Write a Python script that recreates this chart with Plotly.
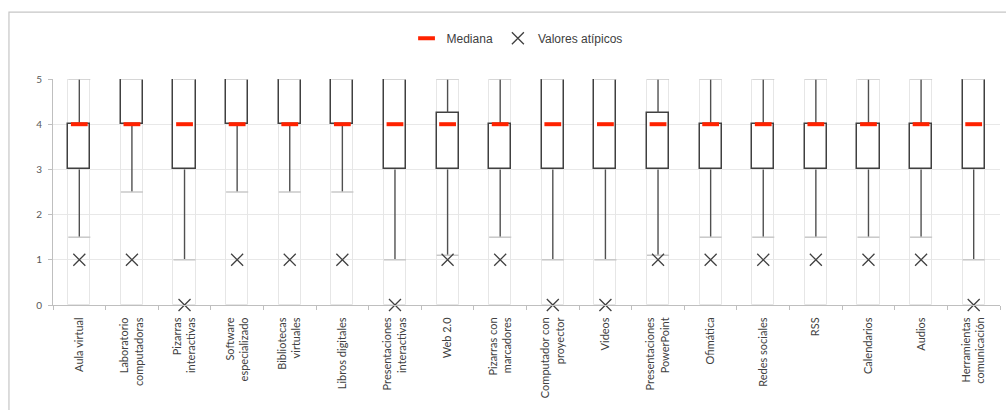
import plotly.graph_objects as go

categories = ["Aula virtual", "Laboratorio<br>computadoras", "Pizarras<br>interactivas",
              "Software<br>especializado", "Bibliotecas<br>virtuales", "Libros digitales",
              "Presentaciones<br>interactivas", "Web 2.0", "Pizarras con<br>marcadores",
              "Computador con<br>proyector", "Videos", "Presentaciones<br>PowerPoint",
              "Ofimática", "Redes sociales", "RSS", "Calendarios", "Audios",
              "Herramientas<br>comunicación"]
lower = [1.5, 2.5, 1, 2.5, 2.5, 2.5, 1, 1.1, 1.5, 1, 1, 1.1, 1.5, 1.5, 1.5, 1.5, 1.5, 1]
q1 = [3, 4, 3, 4, 4, 4, 3, 3, 3, 3, 3, 3, 3, 3, 3, 3, 3, 3]
median = [4] * 18
q3 = [4, 5, 5, 5, 5, 5, 5, 4.25, 4, 5, 5, 4.25, 4, 4, 4, 4, 4, 5]
upper = [5] * 18
outliers = [1, 1, 0, 1, 1, 1, 0, 1, 1, 0, 0, 1, 1, 1, 1, 1, 1, 0]

n = len(categories)
xs = list(range(n))
bw = 0.42
DARK = "#404040"

fig = go.Figure()

# faint full-height column outlines
fig.add_trace(go.Bar(x=xs, y=[5] * n, base=[0] * n, width=bw,
                     marker=dict(color="rgba(0,0,0,0)", line=dict(color="#e6e6e6", width=1)),
                     showlegend=False, hoverinfo="skip"))

# boxes
fig.add_trace(go.Bar(x=xs, y=[b - a for a, b in zip(q1, q3)], base=q1, width=bw,
                     marker=dict(color="white", line=dict(color=DARK, width=1.5)),
                     showlegend=False, hoverinfo="skip"))

# whiskers
wx, wy = [], []
for i in xs:
    wx += [i, i, None, i, i, None]
    wy += [lower[i], q1[i], None, q3[i], upper[i], None]
fig.add_trace(go.Scatter(x=wx, y=wy, mode="lines", line=dict(color="#505050", width=1.4),
                         showlegend=False, hoverinfo="skip"))

# caps
cx, cy = [], []
for i in xs:
    for v in (lower[i], upper[i]):
        cx += [i - bw / 2, i + bw / 2, None]
        cy += [v, v, None]
fig.add_trace(go.Scatter(x=cx, y=cy, mode="lines", line=dict(color="#c8c8c8", width=1.5),
                         showlegend=False, hoverinfo="skip"))

# medians
fig.add_trace(go.Scatter(x=xs, y=median, mode="markers", name="Mediana",
                         marker=dict(symbol="line-ew", size=12, color="#ff2200",
                                     line=dict(color="#ff2200", width=4)),
                         cliponaxis=False))

# outliers
fig.add_trace(go.Scatter(x=xs, y=outliers, mode="markers", name="Valores atípicos",
                         marker=dict(symbol="x-thin", size=12, color=DARK,
                                     line=dict(color=DARK, width=1.3)),
                         cliponaxis=False))

fig.add_shape(type="rect", xref="paper", yref="paper", x0=-0.0465, x1=1.2, y0=-1, y1=1.296,
              line=dict(color="#c6c6c6", width=1.2), layer="below")

fig.update_layout(
    width=1006, height=410,
    margin=dict(l=53, r=6, t=79, b=105, autoexpand=False),
    paper_bgcolor="white", plot_bgcolor="white",
    barmode="overlay", bargap=0,
    font=dict(family="Liberation Sans", color=DARK, size=12),
    legend=dict(orientation="h", x=0.49, xanchor="center", y=1.18, yanchor="middle",
                font=dict(family="Liberation Sans", size=12, color="#404040"),
                itemwidth=30, tracegroupgap=0),
    xaxis=dict(range=[-0.5, n - 0.5], tickmode="array", tickvals=xs, ticktext=categories,
               tickangle=-90, ticks="", showgrid=False, zeroline=False,
               showline=True, linecolor="#bfbfbf", linewidth=1, ticklabelstandoff=7,
               tickfont=dict(family="Lato", size=11, color="#404040"),
               minor=dict(tickmode="array", tickvals=[i - 0.5 for i in range(n + 1)],
                          ticks="outside", ticklen=4, tickcolor="#bfbfbf", showgrid=False)),
    yaxis=dict(range=[0, 5], tickvals=[0, 1, 2, 3, 4, 5], ticks="outside", ticklen=4,
               tickcolor="#bfbfbf", showline=True, linecolor="#bfbfbf", linewidth=1,
               gridcolor="#e8e8e8", zeroline=False, ticklabelstandoff=4,
               tickfont=dict(family="Lato", size=10, color="#595959")),
)

fig.write_html("out.html", config={"displayModeBar": False},
               post_script="document.body.style.margin='0';")
